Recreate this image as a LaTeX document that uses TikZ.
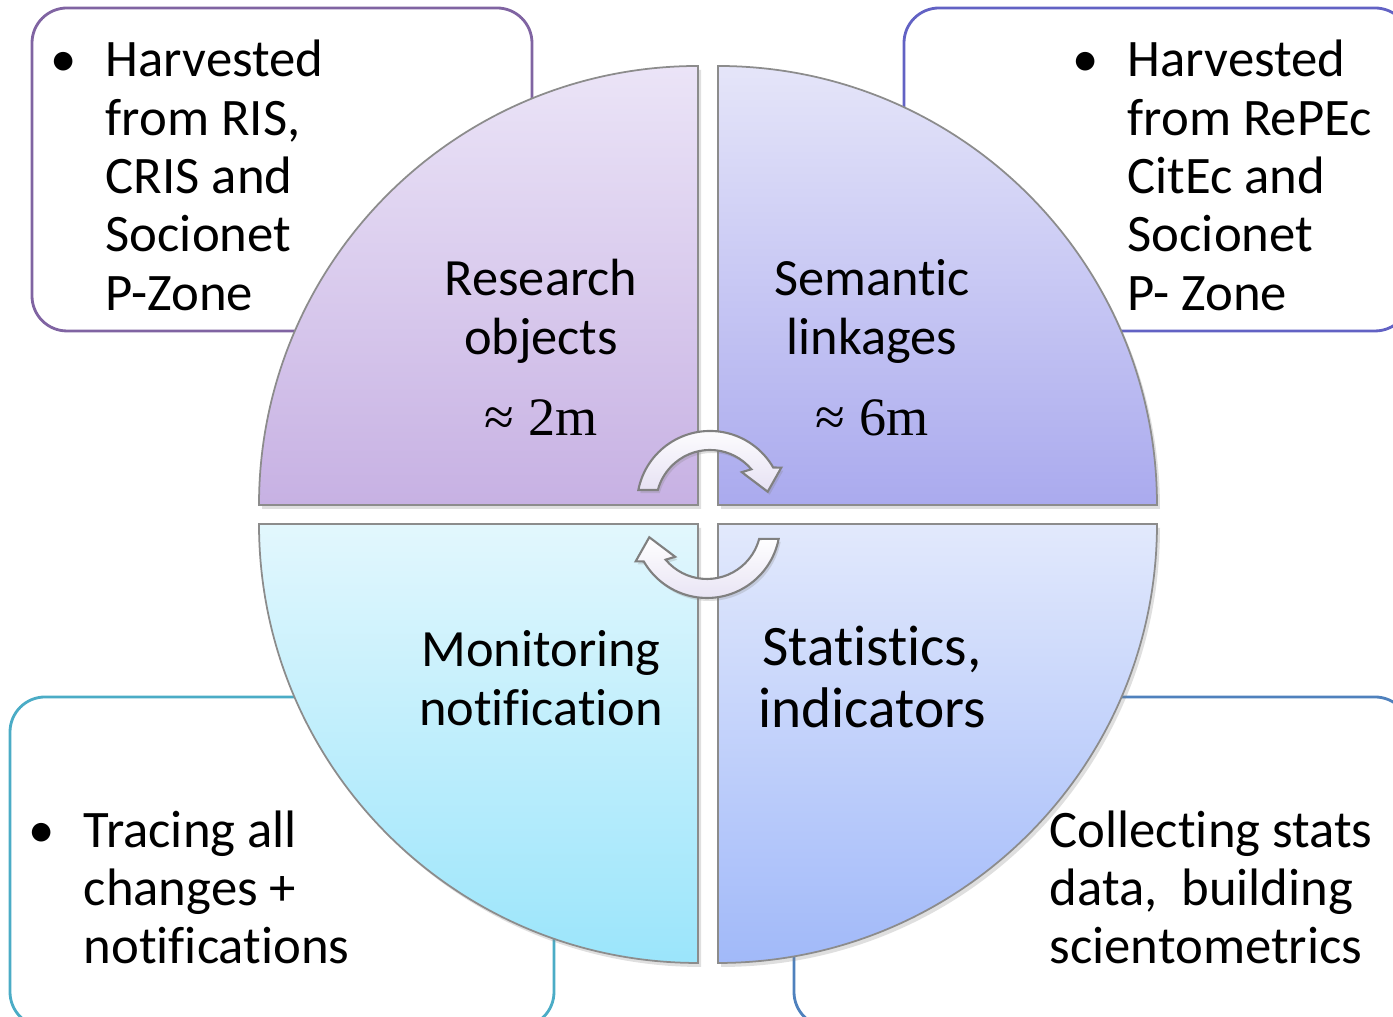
\documentclass[tikz,border=0pt]{standalone}
\usepackage{fontspec}
\setmainfont{Carlito}[Ligatures=NoCommon]
\newfontfamily\seriffont{Liberation Serif}
\usetikzlibrary{shadows}

\definecolor{boxpurple}{HTML}{8064A2}
\definecolor{boxviolet}{HTML}{6262C4}
\definecolor{boxteal}{HTML}{4BACC6}
\definecolor{boxblue}{HTML}{4F81BD}
\definecolor{restop}{HTML}{EBE4F7}
\definecolor{resbot}{HTML}{C7B1E3}
\definecolor{semtop}{HTML}{E5E5F9}
\definecolor{sembot}{HTML}{AAAAEE}
\definecolor{montop}{HTML}{E2F7FD}
\definecolor{monbot}{HTML}{9BE5FB}
\definecolor{stattop}{HTML}{E2E9FC}
\definecolor{statbot}{HTML}{A1B9F9}
\definecolor{arrowlav}{HTML}{E6E1F3}

\begin{document}
\begin{tikzpicture}[
  infobox/.style={rounded corners=0.35cm, line width=0.8pt, fill=white},
  quarter/.style={draw=gray!90, line width=0.5pt, drop shadow={shadow xshift=0.03cm, shadow yshift=-0.04cm, opacity=0.25}},
  cyclearrow/.style={draw=gray, line width=0.6pt, top color=white, bottom color=arrowlav, drop shadow={shadow xshift=0.02cm, shadow yshift=-0.03cm, opacity=0.25}},
  bodytext/.style={inner sep=0pt, align=left, anchor=west, font=\fontsize{15}{16.6}\selectfont},
  quarttext/.style={inner sep=0pt, align=center, font=\fontsize{14.9}{16.8}\selectfont},
  amount/.style={inner sep=0pt, font=\seriffont\fontsize{15.4}{18}\selectfont}
]
\clip (0,0) rectangle (13.93,10.17);

% Boxes behind the circle
\draw[infobox, draw=boxpurple] (0.32,6.86) rectangle (5.32,10.09);
\draw[infobox, draw=boxviolet] (9.04,6.86) rectangle (14.10,10.09);
\draw[infobox, draw=boxteal] (0.10,-0.10) rectangle (5.54,3.20);
\draw[infobox, draw=boxblue] (7.94,-0.10) rectangle (14.10,3.20);

% Quarter discs
\draw[quarter, top color=restop, bottom color=resbot] (6.98,5.12) -- (2.59,5.12) arc[start angle=180, end angle=90, radius=4.39] -- cycle;
\draw[quarter, top color=semtop, bottom color=sembot] (7.18,5.12) -- (7.18,9.51) arc[start angle=90, end angle=0, radius=4.39] -- cycle;
\draw[quarter, top color=montop, bottom color=monbot] (6.98,4.93) -- (6.98,0.54) arc[start angle=270, end angle=180, radius=4.39] -- cycle;
\draw[quarter, top color=stattop, bottom color=statbot] (7.18,4.93) -- (11.57,4.93) arc[start angle=0, end angle=-90, radius=4.39] -- cycle;

% Box texts
\node[bodytext] (harvris) at (1.05,8.415) {\llap{•\hspace{0.29cm}}Harvested\\from RIS,\\CRIS and\\Socionet\\P-Zone};
\node[bodytext] (harvrepec) at (11.27,8.415) {\llap{•\hspace{0.29cm}}Harvested\\from RePEc\\CitEc and\\Socionet\\P- Zone};
\node[bodytext] (tracing) at (0.83,1.295) {\llap{•\hspace{0.29cm}}Tracing all\\changes +\\notifications};
\node[bodytext] (collecting) at (10.49,1.295) {Collecting stats\\data,\ \ building\\scientometrics};

% Quarter texts
\node[quarttext] (research) at (5.41,7.055) {Research\\objects};
\node[amount] (resnum) at (5.41,5.99) {≈ 2m};
\node[quarttext] (semantic) at (8.72,7.055) {Semantic\\linkages};
\node[amount] (semnum) at (8.72,5.99) {≈ 6m};
\node[quarttext] (monitoring) at (5.41,3.39) {Monitoring\\notification};
\node[quarttext, font=\fontsize{16.3}{17.6}\selectfont] (statistics) at (8.72,3.40) {Statistics,\\indicators};

% Circular arrows in the middle
\draw[cyclearrow, shift={(7.10,5.13)}] (169:0.73) arc[start angle=169, end angle=30, radius=0.73] -- (27:0.80) -- (12:0.59) -- (45:0.45) -- (40:0.54) arc[start angle=40, end angle=165, radius=0.54] -- cycle;
\draw[cyclearrow, shift={(7.07,4.92)}, rotate=180] (169:0.73) arc[start angle=169, end angle=30, radius=0.73] -- (27:0.80) -- (12:0.59) -- (45:0.45) -- (40:0.54) arc[start angle=40, end angle=165, radius=0.54] -- cycle;

\end{tikzpicture}
\end{document}
